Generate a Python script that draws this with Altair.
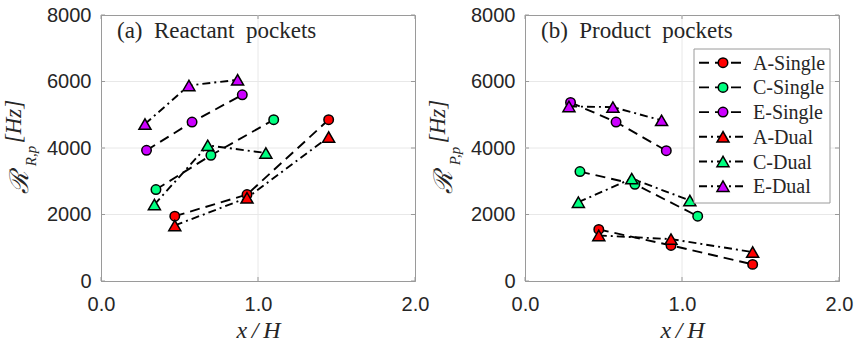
import altair as alt
import pandas as pd

# ---- data -----------------------------------------------------------------
series_names = ["A-Single", "C-Single", "E-Single", "A-Dual", "C-Dual", "E-Dual"]
series_colors = ["#FF0000", "#00FF80", "#CC00FF", "#FF0000", "#00FF80", "#CC00FF"]
series_kinds = ["Single", "Single", "Single", "Dual", "Dual", "Dual"]

# streamwise positions x/H of each case
A_single_x = [0.47, 0.93, 1.45]
C_single_x = [0.35, 0.70, 1.10]
E_single_x = [0.29, 0.58, 0.90]
A_dual_x = [0.47, 0.93, 1.45]
C_dual_x = [0.34, 0.68, 1.05]
E_dual_x = [0.28, 0.56, 0.87]

# (a) reactant pockets, rate in Hz
react_A_single = [1950, 2600, 4850]
react_C_single = [2750, 3780, 4850]
react_E_single = [3930, 4780, 5600]
react_A_dual = [1670, 2500, 4330]
react_C_dual = [2300, 4080, 3850]
react_E_dual = [4720, 5880, 6050]

# (b) product pockets, rate in Hz
prod_A_single = [1550, 1070, 500]
prod_C_single = [3290, 2910, 1950]
prod_E_single = [5370, 4780, 3920]
prod_A_dual = [1370, 1260, 870]
prod_C_dual = [2370, 3080, 2420]
prod_E_dual = [5250, 5230, 4830]

x_ticks = [0, 1, 2]
y_ticks = [0, 2000, 4000, 6000, 8000]
grid_x = [1]
grid_y = [2000, 4000, 6000]

xs_all = [A_single_x, C_single_x, E_single_x, A_dual_x, C_dual_x, E_dual_x]
react_all = [react_A_single, react_C_single, react_E_single,
             react_A_dual, react_C_dual, react_E_dual]
prod_all = [prod_A_single, prod_C_single, prod_E_single,
            prod_A_dual, prod_C_dual, prod_E_dual]

# ---- styling ----------------------------------------------------------------
PW, PH = 314, 266
FRAME = "#9a9a9a"
GRID = "#e8e8e8"
SERIF = "Liberation Serif"
SANS = "Liberation Sans"
DASH = {"Single": [10, 6], "Dual": [8, 4, 2, 4]}
SHAPE = {"Single": "circle", "Dual": "triangle-up"}
SIZE = {"Single": 90, "Dual": 145}
TICK = 4


def one_row(text):
    return pd.DataFrame({"t": [text]})


def panel(values, title_text, sub_text, with_legend):
    x_enc = alt.X("x:Q", scale=alt.Scale(domain=[0, 2], nice=False),
                  axis=alt.Axis(values=x_ticks, format=".1f", title="x\u2009/\u2009H",
                                titlePadding=4, labelFlush=False, labelPadding=13))
    y_enc = alt.Y("y:Q", scale=alt.Scale(domain=[0, 8000], nice=False),
                  axis=alt.Axis(values=y_ticks, format="d", title="[Hz]",
                                labelFlush=False, labelPadding=10,
                                titleY=106, titleAngle=270, titleAlign="center",
                                titleBaseline="bottom", titlePadding=21,
                                titleFontSize=23))

    layers = []
    # invisible frame that fixes the outer extent of the panel
    layers.append(alt.Chart(one_row("")).mark_rule(opacity=0, strokeWidth=1).encode(
        x=alt.value(-100), y=alt.value(-14), y2=alt.value(PH + 66)))

    # light interior grid
    layers.append(alt.Chart(pd.DataFrame({"x": grid_x})).mark_rule(
        color=GRID, strokeWidth=1).encode(x=x_enc))
    layers.append(alt.Chart(pd.DataFrame({"y": grid_y})).mark_rule(
        color=GRID, strokeWidth=1).encode(y=y_enc))

    # inward tick marks on all four sides of the box
    xt = alt.Chart(pd.DataFrame({"x": x_ticks}))
    yt = alt.Chart(pd.DataFrame({"y": y_ticks}))
    layers.append(xt.mark_rule(color=FRAME).encode(
        x=x_enc, y=alt.value(PH), y2=alt.value(PH - TICK)))
    layers.append(xt.mark_rule(color=FRAME).encode(
        x=x_enc, y=alt.value(0), y2=alt.value(TICK)))
    layers.append(yt.mark_rule(color=FRAME).encode(
        y=y_enc, x=alt.value(0), x2=alt.value(TICK)))
    layers.append(yt.mark_rule(color=FRAME).encode(
        y=y_enc, x=alt.value(PW), x2=alt.value(PW - TICK)))

    for name, color, kind, xv, yv in zip(series_names, series_colors, series_kinds,
                                         xs_all, values):
        df = pd.DataFrame({"x": xv, "y": yv, "series": name})
        base = alt.Chart(df)
        layers.append(base.mark_line(color="black", strokeWidth=1.9,
                                     strokeDash=DASH[kind]).encode(x=x_enc, y=y_enc))
        layers.append(base.mark_point(shape=SHAPE[kind], size=SIZE[kind], filled=True,
                                      fill=color, stroke="black", strokeWidth=1.5,
                                      fillOpacity=1, strokeOpacity=1).encode(x=x_enc, y=y_enc))

    # panel caption
    layers.append(alt.Chart(one_row(title_text)).mark_text(
        font=SERIF, fontSize=23, align="left", baseline="alphabetic", color="#262626"
    ).encode(x=alt.value(16), y=alt.value(23), text="t:N"))

    # calligraphic R with its subscript, below the unit in the y title
    layers.append(alt.Chart(one_row("\u211B")).mark_text(
        font=SERIF, fontSize=26, fontStyle="italic", angle=270, align="center",
        baseline="alphabetic", color="#262626"
    ).encode(x=alt.value(-73), y=alt.value(167), text="t:N"))
    layers.append(alt.Chart(one_row(sub_text)).mark_text(
        font=SERIF, fontSize=15, fontStyle="italic", angle=270, align="center",
        baseline="alphabetic", color="#262626"
    ).encode(x=alt.value(-65), y=alt.value(141), text="t:N"))

    if with_legend:
        lx0, lx1, ly0, ly1 = 169, 305, 34, 188
        layers.append(alt.Chart(one_row("")).mark_rect(
            fill="white", stroke=FRAME, strokeWidth=1
        ).encode(x=alt.value(lx0), x2=alt.value(lx1), y=alt.value(ly0), y2=alt.value(ly1)))
        row_gap = 24.7
        for i, (name, color, kind) in enumerate(zip(series_names, series_colors,
                                                     series_kinds)):
            yy = 47.7 + i * row_gap
            layers.append(alt.Chart(one_row(name)).mark_rule(
                color="black", strokeWidth=1.9, strokeDash=DASH[kind]
            ).encode(x=alt.value(174), x2=alt.value(220), y=alt.value(yy)))
            layers.append(alt.Chart(one_row(name)).mark_point(
                shape=SHAPE[kind], size=SIZE[kind], filled=True, fill=color,
                stroke="black", strokeWidth=1.5, fillOpacity=1, strokeOpacity=1
            ).encode(x=alt.value(198), y=alt.value(yy)))
            layers.append(alt.Chart(one_row(name)).mark_text(
                font=SERIF, fontSize=20, align="left", baseline="middle", color="#262626"
            ).encode(x=alt.value(228), y=alt.value(yy + 1), text="t:N"))

    return alt.layer(*layers).properties(width=PW, height=PH)


left = panel(react_all, "(a)\u2002Reactant\u2002pockets", "R,p", False)
right = panel(prod_all, "(b)\u2002Product\u2002pockets", "P,p", True)

chart = alt.hconcat(left, right, spacing=110, bounds="flush").properties(
    padding=0,
    background="white",
).configure_view(
    stroke=FRAME, strokeWidth=1
).configure_axis(
    grid=False, ticks=False, domainColor=FRAME, domainWidth=1,
    labelFont=SANS, labelFontSize=20, labelColor="#262626",
    titleFont=SERIF, titleFontSize=24, titleFontStyle="italic",
    titleFontWeight="normal", titleColor="#262626",
)

chart.save("out.html", embed_options={"renderer": "svg", "actions": False})
